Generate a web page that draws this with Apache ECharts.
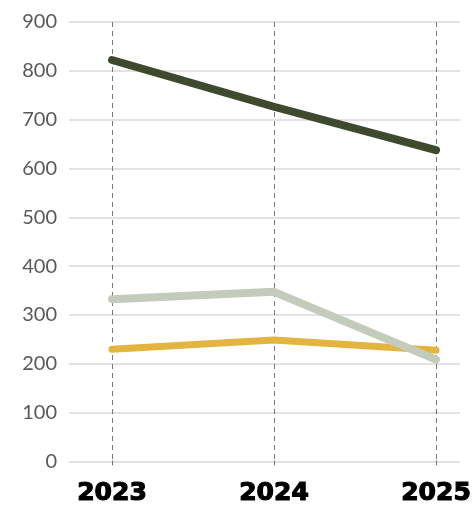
<!DOCTYPE html>
<html>
<head>
<meta charset="utf-8">
<script src="https://cdn.jsdelivr.net/npm/echarts@6/dist/echarts.min.js"></script>
<style>
  html, body { margin: 0; padding: 0; background: #fff; }
  #container { width: 475px; height: 507px; }
</style>
</head>
<body>
<div id="container"></div>
<script>
var years = ['2023', '2024', '2025'];
var darkLine = [822, 726, 637];
var greyLine = [331, 346, 207];
var goldLine = [228, 247, 226];
var yTicks = { min: 0, max: 900, step: 100 };

var dom = document.getElementById('container');
var myChart = echarts.init(dom, null, { renderer: 'canvas' });

function lineSeries(data, color, width) {
    return {
        type: 'line',
        xAxisIndex: 1,
        yAxisIndex: 1,
        data: data,
        symbol: 'none',
        smooth: false,
        silent: true,
        lineStyle: { color: color, width: width, cap: 'round', join: 'round' }
    };
}

var option = {
    animation: false,
    backgroundColor: '#ffffff',
    grid: [
        // wide grid: horizontal gridlines + y labels
        { left: 69, right: 15, top: 22, bottom: 45.5 },
        // narrower grid: categories sit here
        { left: 112, right: 39, top: 22, bottom: 45.5 }
    ],
    xAxis: [
        { gridIndex: 0, type: 'value', min: 0, max: 1, show: false },
        {
            gridIndex: 1,
            type: 'category',
            data: years,
            boundaryGap: false,
            axisLine: { show: false },
            axisTick: { show: true, length: 6, lineStyle: { color: '#777', type: [5, 4], width: 1 } },
            splitLine: { show: true, lineStyle: { color: '#777', type: [5, 4], width: 1 } },
            axisLabel: {
                margin: 21,
                color: '#000',
                fontFamily: 'DejaVu Sans',
                fontWeight: 'bold',
                fontSize: 25,
                textBorderColor: '#000',
                textBorderWidth: 1.2
            }
        }
    ],
    yAxis: [
        {
            gridIndex: 0,
            type: 'value',
            min: yTicks.min,
            max: yTicks.max,
            interval: yTicks.step,
            axisLine: { show: false },
            axisTick: { show: false },
            splitLine: { show: true, lineStyle: { color: '#d9d9d9', width: 1.5 } },
            axisLabel: {
                margin: 12,
                color: '#595959',
                fontFamily: 'Lato',
                fontSize: 20
            }
        },
        {
            gridIndex: 1,
            type: 'value',
            min: yTicks.min,
            max: yTicks.max,
            interval: yTicks.step,
            show: false
        }
    ],
    series: [
        lineSeries(goldLine, '#e4b440', 7),
        lineSeries(greyLine, '#c3cbbc', 8),
        lineSeries(darkLine, '#3d4a2e', 8)
    ]
};

myChart.setOption(option, true);
</script>
</body>
</html>
